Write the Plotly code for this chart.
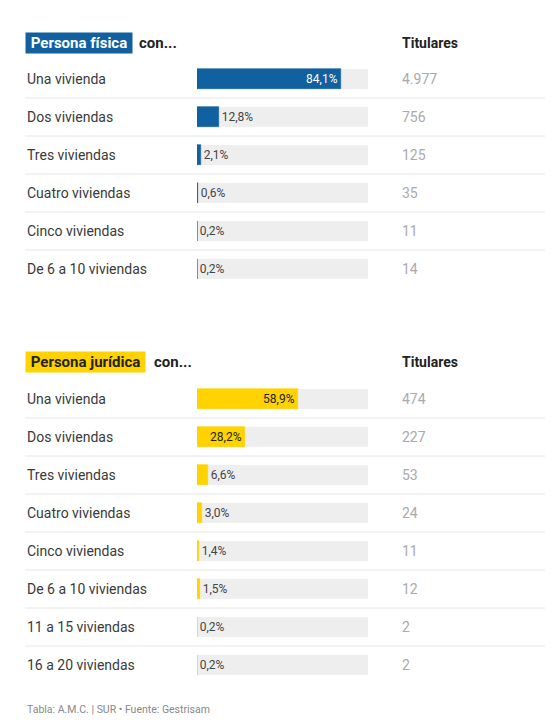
import plotly.graph_objects as go

# datos
fisica_cats = ["Una vivienda", "Dos viviendas", "Tres viviendas",
               "Cuatro viviendas", "Cinco viviendas", "De 6 a 10 viviendas"]
fisica_pct = [84.1, 12.8, 2.1, 0.6, 0.2, 0.2]
fisica_tit = [4977, 756, 125, 35, 11, 14]

juridica_cats = ["Una vivienda", "Dos viviendas", "Tres viviendas",
                 "Cuatro viviendas", "Cinco viviendas", "De 6 a 10 viviendas",
                 "11 a 15 viviendas", "16 a 20 viviendas"]
juridica_pct = [58.9, 28.2, 6.6, 3.0, 1.4, 1.5, 0.2, 0.2]
juridica_tit = [474, 227, 53, 24, 11, 12, 2, 2]

# la pagina deja 8px de margen alrededor del grafico
OFF = 8
W, H = 557 - 2 * OFF, 727 - 2 * OFF
AZUL = "#11609f"
AMARILLO = "#ffd200"
FONT = "Roboto"
BAR_W = 0.526


def px(x):
    return (x - OFF) / W


def py(y):
    return 1 - (y - OFF) / H


def pct_txt(v):
    return f"{v:.1f}".replace(".", ",") + "%"


def miles(n):
    return f"{n:,}".replace(",", ".")


fig = go.Figure()
annotations = []
shapes = []

secciones = [
    ("y", "Persona física", AZUL, "white", fisica_cats, fisica_pct, fisica_tit, 43, 137),
    ("y2", "Persona jurídica", AMARILLO, "#222222", juridica_cats, juridica_pct, juridica_tit, 362, 152),
]

for yref, titulo, color, txtcolor, cats, pct, tit, head_y, con_x in secciones:
    n = len(cats)
    filas = list(range(n))
    # fondo gris
    fig.add_trace(go.Bar(
        x=[100] * n, y=filas, orientation="h", yaxis=yref,
        marker=dict(color="#eeeeee", line=dict(width=0)),
        width=BAR_W, hoverinfo="skip", showlegend=False,
    ))
    fig.add_trace(go.Bar(
        x=pct, y=filas, orientation="h", yaxis=yref,
        marker=dict(color=color, line=dict(color=color, width=0.6)),
        width=BAR_W, showlegend=False,
        text=[pct_txt(v) for v in pct],
        textposition=["inside" if v > 20 else "outside" for v in pct],
        insidetextanchor="end",
        insidetextfont=dict(family=FONT, size=12, color=txtcolor),
        outsidetextfont=dict(family=FONT, size=12, color="#444444"),
        constraintext="none", cliponaxis=False,
    ))
    # borde izquierdo de cada barra (visible aunque el valor sea minimo)
    ex, ey = [], []
    for i in filas:
        ex += [0, 0, None]
        ey += [i - BAR_W / 2, i + BAR_W / 2, None]
    fig.add_trace(go.Scatter(
        x=ex, y=ey, mode="lines", yaxis=yref,
        line=dict(color=color, width=1), hoverinfo="skip", showlegend=False,
    ))
    for i, c in enumerate(cats):
        annotations.append(dict(x=px(25), y=i, xref="paper", yref=yref, text=c,
                                showarrow=False, xanchor="left", yanchor="middle",
                                font=dict(family=FONT, size=14, color="#3a3a3a")))
        annotations.append(dict(x=px(400), y=i, xref="paper", yref=yref, text=miles(tit[i]),
                                showarrow=False, xanchor="left", yanchor="middle",
                                font=dict(family=FONT, size=14, color="#aaaaaa")))
    for i in range(n - 1):
        shapes.append(dict(type="line", xref="paper", yref=yref,
                           x0=px(25), x1=px(545), y0=i + 0.5, y1=i + 0.5,
                           line=dict(color="#e6e6e6", width=1)))
    # cabecera
    annotations.append(dict(x=px(25), y=py(head_y), xref="paper", yref="paper",
                            text="<b>&nbsp;" + titulo + "&nbsp;</b>", showarrow=False,
                            xanchor="left", yanchor="middle", bgcolor=color, borderpad=1,
                            font=dict(family=FONT, size=15, color=txtcolor)))
    annotations.append(dict(x=px(con_x), y=py(head_y), xref="paper", yref="paper",
                            text="<b>con...</b>", showarrow=False,
                            xanchor="left", yanchor="middle",
                            font=dict(family=FONT, size=15, color="#222222")))
    annotations.append(dict(x=px(400), y=py(head_y), xref="paper", yref="paper",
                            text="<b>Titulares</b>", showarrow=False,
                            xanchor="left", yanchor="middle",
                            font=dict(family=FONT, size=14, color="#222222")))

annotations.append(dict(x=px(25), y=py(709), xref="paper", yref="paper",
                        text="Tabla: A.M.C. | SUR • Fuente: Gestrisam", showarrow=False,
                        xanchor="left", yanchor="middle",
                        font=dict(family=FONT, size=10.5, color="#888888")))

eje = dict(showgrid=False, zeroline=False, showticklabels=False, showline=False, fixedrange=True)

fig.update_layout(
    width=W, height=H,
    margin=dict(l=0, r=0, t=0, b=0),
    paper_bgcolor="white", plot_bgcolor="white",
    barmode="overlay", bargap=0,
    xaxis=dict(domain=[px(197), px(368)], range=[0, 100], **eje),
    yaxis=dict(domain=[py(60 + 6 * 38), py(60)], range=[5.5, -0.5], **eje),
    yaxis2=dict(domain=[py(380 + 8 * 38), py(380)], range=[7.5, -0.5], anchor="x", **eje),
    annotations=annotations,
    shapes=shapes,
    font=dict(family=FONT),
)

fig.write_html("out.html")
